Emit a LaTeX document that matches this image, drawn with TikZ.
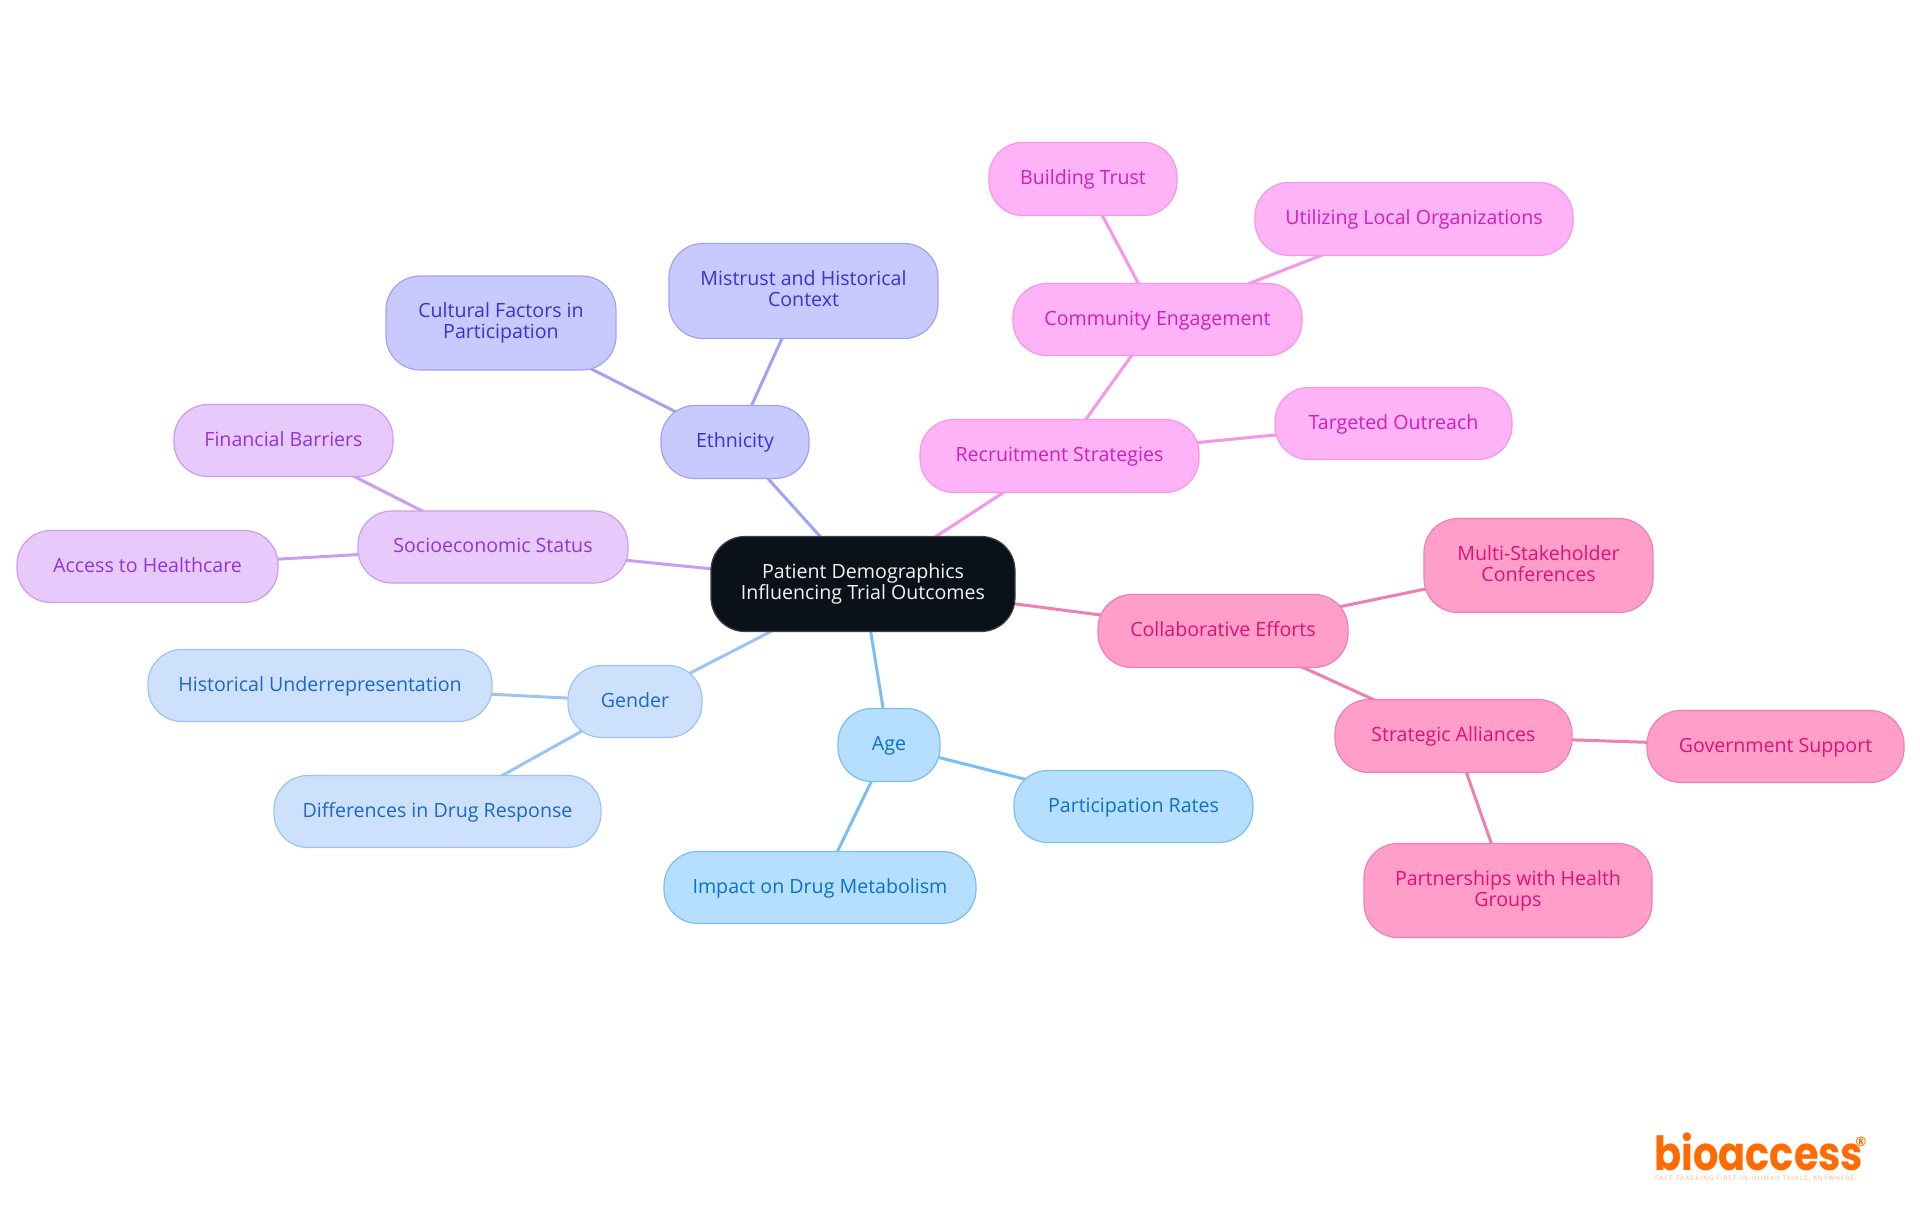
\documentclass[tikz,border=0pt]{standalone}
\usepackage{fontspec}
\setmainfont{Open Sans}
\newfontfamily\logofont{Poppins}
\usetikzlibrary{backgrounds}
\definecolor{cRootF}{HTML}{0B1119}\definecolor{cRootS}{HTML}{3C4147}\definecolor{cRootT}{HTML}{F4F4F4}
\definecolor{cEthF}{HTML}{C7C9FF}\definecolor{cEthS}{HTML}{A0A3F2}\definecolor{cEthT}{HTML}{3535D0}
\definecolor{cSocF}{HTML}{E8C9FC}\definecolor{cSocS}{HTML}{CB9DF0}\definecolor{cSocT}{HTML}{9333DA}
\definecolor{cGenF}{HTML}{CDE1FC}\definecolor{cGenS}{HTML}{9CC4F3}\definecolor{cGenT}{HTML}{1B68C8}
\definecolor{cAgeF}{HTML}{B5DEFF}\definecolor{cAgeS}{HTML}{7DBEF2}\definecolor{cAgeT}{HTML}{0B72C8}
\definecolor{cRecF}{HTML}{FDB3F5}\definecolor{cRecS}{HTML}{F596E6}\definecolor{cRecT}{HTML}{CF20BD}
\definecolor{cColF}{HTML}{FF9FC9}\definecolor{cColS}{HTML}{EE7FB5}\definecolor{cColT}{HTML}{DF1078}
\definecolor{cLogo}{HTML}{FF6B00}\definecolor{cTag}{HTML}{FFB380}
\newcommand\twolines[2]{\rule[-5pt]{0pt}{20pt}#1\\\rule[-5pt]{0pt}{20pt}#2}
\tikzset{
  x=1pt,y=-1pt,
  box/.style={rectangle,rounded corners=34pt,inner sep=0pt,line width=1.2pt,align=center,yshift=-0.5pt,
    font=\fontsize{19.6}{21}\selectfont},
  sz/.style 2 args={minimum width=#1pt,minimum height=#2pt},
  one/.style={text height=15pt,text depth=4pt},
  root/.style={box,fill=cRootF,draw=cRootS,text=cRootT},
  eth/.style={box,fill=cEthF,draw=cEthS,text=cEthT},
  soc/.style={box,fill=cSocF,draw=cSocS,text=cSocT},
  gen/.style={box,fill=cGenF,draw=cGenS,text=cGenT},
  age/.style={box,fill=cAgeF,draw=cAgeS,text=cAgeT},
  rec/.style={box,fill=cRecF,draw=cRecS,text=cRecT},
  col/.style={box,fill=cColF,draw=cColS,text=cColT},
  link/.style={line width=3pt},
}
\begin{document}
\begin{tikzpicture}
\useasboundingbox (0,0) rectangle (1920,1215);
\node[root,sz={304}{95}] (root) at (863,583.5) {\twolines{Patient Demographics}{Influencing Trial Outcomes}};
\node[eth,one,sz={148}{73}] (ethn) at (735,441.5) {Ethnicity};
\node[eth,sz={269}{95}] (mist) at (803.5,290.5) {\twolines{Mistrust and Historical}{Context}};
\node[eth,sz={230}{94}] (cult) at (501,322.5) {\twolines{Cultural Factors in}{Participation}};
\node[soc,one,sz={270}{72}] (soci) at (493,546.5) {Socioeconomic Status};
\node[soc,one,sz={219}{72}] (fina) at (283.5,440) {Financial Barriers};
\node[soc,one,sz={261}{72}] (acce) at (147.5,566) {Access to Healthcare};
\node[gen,one,sz={134}{72}] (gend) at (635,701) {Gender};
\node[gen,one,sz={344}{72}] (hist) at (320,685) {Historical Underrepresentation};
\node[gen,one,sz={327}{72}] (diff) at (437.5,811) {Differences in Drug Response};
\node[age,one,sz={102}{73}] (ageN) at (889,744.5) {Age};
\node[age,one,sz={239}{72}] (part) at (1133.5,806) {Participation Rates};
\node[age,one,sz={312}{72}] (impa) at (820,887) {Impact on Drug Metabolism};
\node[rec,one,sz={279}{73}] (recr) at (1059.5,455.5) {Recruitment Strategies};
\node[rec,one,sz={289}{72}] (comm) at (1157.5,319) {Community Engagement};
\node[rec,one,sz={188}{73}] (buil) at (1083,178.5) {Building Trust};
\node[rec,one,sz={318}{73}] (util) at (1414,218.5) {Utilizing Local Organizations};
\node[rec,one,sz={237}{72}] (targ) at (1393.5,423) {Targeted Outreach};
\node[col,one,sz={250}{73}] (coll) at (1223,630.5) {Collaborative Efforts};
\node[col,one,sz={237}{73}] (stra) at (1453.5,735.5) {Strategic Alliances};
\node[col,sz={229}{94}] (mult) at (1538.5,565) {\twolines{Multi-Stakeholder}{Conferences}};
\node[col,one,sz={257}{72}] (gove) at (1775.5,746) {Government Support};
\node[col,sz={288}{94}] (part2) at (1508,890) {\twolines{Partnerships with Health}{Groups}};
\begin{scope}[on background layer]
\draw[link,cEthS] (root.center)--(ethn.center) (ethn.center)--(mist.center) (ethn.center)--(cult.center);
\draw[link,cSocS] (root.center)--(soci.center) (soci.center)--(fina.center) (soci.center)--(acce.center);
\draw[link,cGenS] (root.center)--(gend.center) (gend.center)--(hist.center) (gend.center)--(diff.center);
\draw[link,cAgeS] (root.center)--(ageN.center) (ageN.center)--(part.center) (ageN.center)--(impa.center);
\draw[link,cRecS] (root.center)--(recr.center) (recr.center)--(comm.center) (recr.center)--(targ.center)
  (comm.center)--(buil.center) (comm.center)--(util.center);
\draw[link,cColS] (root.center)--(coll.center) (coll.center)--(mult.center) (coll.center)--(stra.center)
  (stra.center)--(gove.center) (stra.center)--(part2.center);
\end{scope}
\node[anchor=base west,inner sep=0pt,text=cLogo,font=\logofont\bfseries\fontsize{47}{47}\selectfont] (logo) at (1654,1170) {\scalebox{0.85}[1]{bioaccess}};
\node[anchor=center,inner sep=0pt,text=cLogo,font=\fontsize{13}{13}\selectfont\bfseries] (reg) at (1861,1142) {®};
\node[anchor=base west,inner sep=0pt,text=cTag,font=\fontsize{6.2}{6.2}\selectfont\addfontfeature{LetterSpace=18}] (tag) at (1655,1180) {FAST-TRACKING FIRST-IN-HUMAN TRIALS, ANYWHERE};
\end{tikzpicture}
\end{document}
